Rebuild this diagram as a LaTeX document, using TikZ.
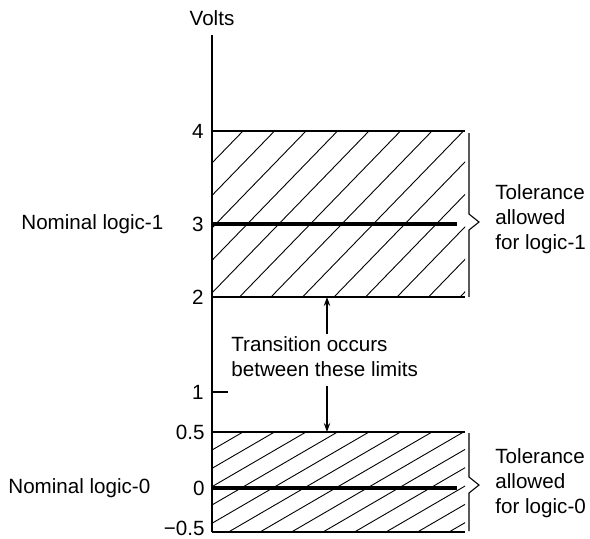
\documentclass[tikz,border=0pt]{standalone}
\usepackage{fontspec}
\setmainfont{Liberation Sans}
\usetikzlibrary{arrows.meta}

\begin{document}
\begin{tikzpicture}[x=0.5pt,y=-0.5pt,
	lbl/.style={font=\fontsize{10.3}{12.5}\selectfont, inner sep=0pt},
	thinline/.style={line width=0.55pt},
	heavy/.style={line width=1.6pt},
	hatch/.style={line width=0.45pt},
	arr/.style={thinline, -{Stealth[length=4.5pt,width=3.2pt]}}]

	\useasboundingbox (0,0) rectangle (590,538);

	% Axis
	\node[lbl] (volts) at (212,18) {Volts};
	\coordinate (top) at (212,35);
	\coordinate (bot) at (212,532);
	\draw[thinline] (top) -- (bot);

	% Tick labels
	\node[lbl, anchor=east] (v4) at (204,131) {4};
	\node[lbl, anchor=east] (v3) at (204,224) {3};
	\node[lbl, anchor=east] (v2) at (204,297) {2};
	\node[lbl, anchor=east] (v1) at (204,392) {1};
	\node[lbl, anchor=east] (v05) at (205,432) {0.5};
	\node[lbl, anchor=east] (v0) at (205,488) {0};
	\node[lbl, anchor=east] (vm05) at (205,528) {−0.5};
	\draw[thinline] (212,392) -- (228,392);

	% Logic-1 band
	\begin{scope}
		\clip (212,131) rectangle (465,297);
		\foreach \k in {-6,...,12}
			\draw[hatch] (243+31.5*\k,131) -- ++(-161,166);
	\end{scope}
	\draw[thinline] (212,131) -- (465,131);
	\draw[thinline] (212,297) -- (465,297);
	\draw[heavy] (212,224) -- (457,224);

	% Logic-0 band
	\begin{scope}
		\clip (212,432) rectangle (465,532);
		\foreach \k in {-6,...,13}
			\draw[hatch] (243+31.5*\k,432) -- ++(-172,100);
	\end{scope}
	\draw[thinline] (212,432) -- (465,432);
	\draw[thinline] (212,532) -- (465,532);
	\draw[heavy] (212,488) -- (457,488);

	% Brackets
	\draw[thinline] (469,133) -- (469,214) -- (479,222) -- (469,230) -- (469,297);
	\draw[thinline] (469,433) -- (469,477) -- (479,485) -- (469,493) -- (469,531);

	% Labels
	\node[lbl, anchor=west] (nom1) at (21,224) {Nominal logic-1};
	\node[lbl, anchor=west] (nom0) at (8,488) {Nominal logic-0};
	\node[lbl, anchor=west, align=left] (tol1) at (495,219)
		{Tolerance\\allowed\\for logic-1};
	\node[lbl, anchor=west, align=left] (tol0) at (495,483)
		{Tolerance\\allowed\\for logic-0};

	% Transition
	\node[lbl, anchor=west, align=left] (trans) at (231,357)
		{Transition occurs\\between these limits};
	\coordinate (up) at (327,297);
	\coordinate (down) at (327,432);
	\draw[arr] (trans.north -| up) ++(0,-3) -- (up);
	\draw[arr] (trans.south -| up) ++(0,9) -- (down);

\end{tikzpicture}
\end{document}
